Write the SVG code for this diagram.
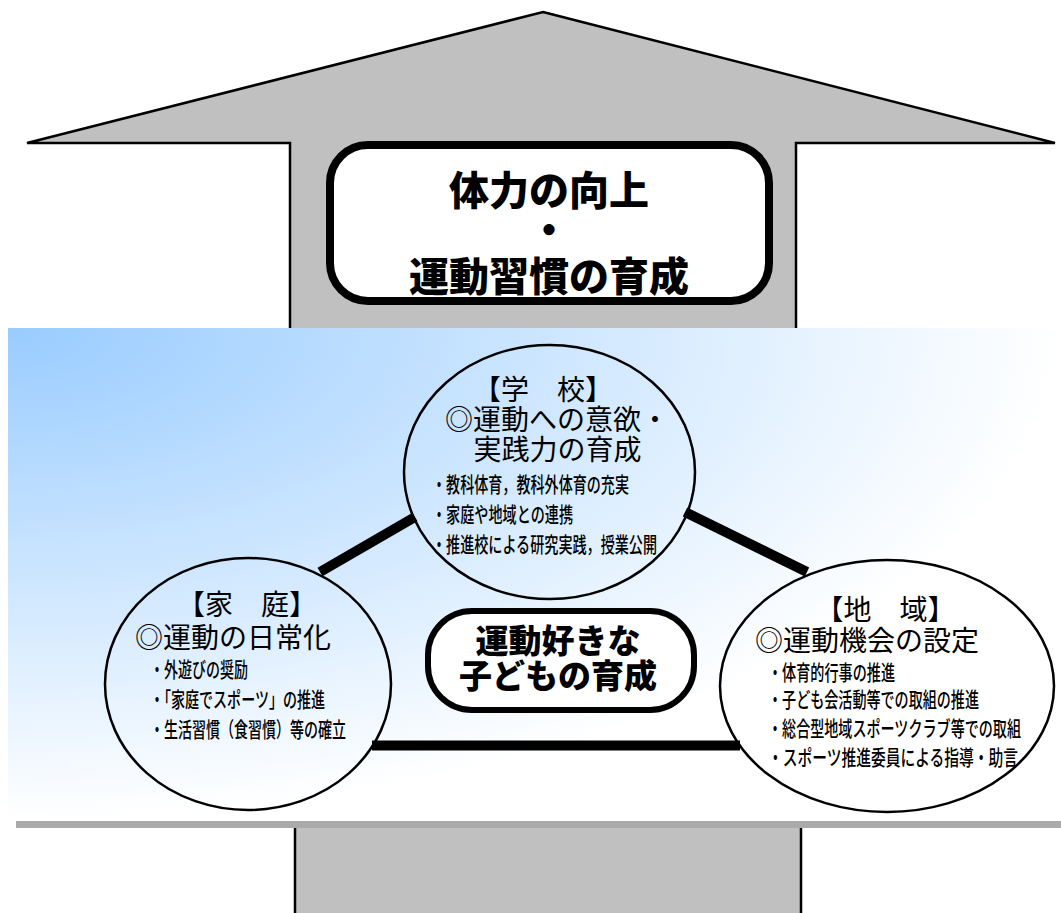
<svg xmlns="http://www.w3.org/2000/svg" width="1061" height="913" viewBox="0 0 1061 913">
<defs>
<radialGradient id="bg" gradientUnits="objectBoundingBox" cx="0" cy="0" r="1" fx="0" fy="0">
<stop offset="0" stop-color="#99ccff"/>
<stop offset="1" stop-color="#ffffff"/>
</radialGradient>
</defs>
<style>
.jp{font-family:"Noto Sans CJK JP","Noto Sans CJK SC",sans-serif;fill:#000}
.big{font-size:40px;font-weight:900;text-anchor:middle}
.mid{font-size:33px;font-weight:900;text-anchor:middle}
.head{font-size:28px}
.c{text-anchor:middle}
.bul{font-size:21px;font-weight:500}
.ell{fill:none;stroke:#000;stroke-width:2.5}
.conn{stroke:#000;stroke-width:10;stroke-linecap:butt;fill:none}
.gray{fill:#c0c0c0;stroke:#000;stroke-width:2.5}
</style>
<rect width="1061" height="913" fill="#ffffff"/>
<g id="arrow-top">
<polygon class="gray" points="543,12 1055,143 796,143 796,330 290,330 290,143 27,143"/>
</g>
<g id="goal">
<rect x="330" y="145" width="439" height="156" rx="38" fill="#ffffff" stroke="#000" stroke-width="8"/>
<text class="jp big" x="549" y="205">体力の向上</text>
<text class="jp big" x="549" y="245">・</text>
<text class="jp big" x="549" y="291">運動習慣の育成</text>
</g>
<rect id="panel" x="8" y="328" width="1053" height="492" fill="url(#bg)"/>
<rect x="16" y="821" width="1045" height="7" fill="#aaaaaa"/>
<g id="arrow-bottom">
<rect x="295" y="828" width="506" height="90" fill="#c0c0c0"/>
<line x1="295" y1="828" x2="295" y2="913" stroke="#000" stroke-width="2.5"/>
<line x1="801" y1="828" x2="801" y2="913" stroke="#000" stroke-width="2.5"/>
</g>
<g id="connectors">
<line class="conn" x1="320" y1="572" x2="415" y2="517"/>
<line class="conn" x1="685" y1="512" x2="807" y2="572"/>
<line class="conn" x1="372" y1="745.5" x2="740" y2="745.5"/>
</g>
<g id="school">
<ellipse class="ell" cx="549.5" cy="472" rx="145.5" ry="127"/>
<text class="jp head c" x="543" y="400">【学　校】</text>
<text class="jp head c" x="557" y="430">◎運動への意欲・</text>
<text class="jp head c" x="557.5" y="460">実践力の育成</text>
<text class="jp bul" x="432" y="492" textLength="197" lengthAdjust="spacingAndGlyphs">・教科体育，教科外体育の充実</text>
<text class="jp bul" x="432" y="522" textLength="141" lengthAdjust="spacingAndGlyphs">・家庭や地域との連携</text>
<text class="jp bul" x="432" y="552" textLength="225" lengthAdjust="spacingAndGlyphs">・推進校による研究実践，授業公開</text>
</g>
<g id="home">
<ellipse class="ell" cx="248" cy="684" rx="143" ry="126"/>
<text class="jp head c" x="247" y="615">【家　庭】</text>
<text class="jp head" x="135" y="648">◎運動の日常化</text>
<text class="jp bul" x="150" y="677" textLength="98" lengthAdjust="spacingAndGlyphs">・外遊びの奨励</text>
<text class="jp bul" x="150" y="707" textLength="175" lengthAdjust="spacingAndGlyphs">・「家庭でスポーツ」の推進</text>
<text class="jp bul" x="150" y="737" textLength="196" lengthAdjust="spacingAndGlyphs">・生活習慣（食習慣）等の確立</text>
</g>
<g id="region">
<ellipse class="ell" cx="887" cy="686" rx="167" ry="126"/>
<text class="jp head c" x="885.5" y="620">【地　域】</text>
<text class="jp head" x="755" y="651">◎運動機会の設定</text>
<text class="jp bul" x="768" y="680" textLength="127" lengthAdjust="spacingAndGlyphs">・体育的行事の推進</text>
<text class="jp bul" x="768" y="707" textLength="211" lengthAdjust="spacingAndGlyphs">・子ども会活動等での取組の推進</text>
<text class="jp bul" x="768" y="736" textLength="253" lengthAdjust="spacingAndGlyphs">・総合型地域スポーツクラブ等での取組</text>
<text class="jp bul" x="768" y="765" textLength="250" lengthAdjust="spacingAndGlyphs">・スポーツ推進委員による指導・助言</text>
</g>
<g id="center">
<rect x="428" y="611" width="266" height="99" rx="44" fill="#ffffff" stroke="#000" stroke-width="6"/>
<text class="jp mid" x="558" y="653">運動好きな</text>
<text class="jp mid" x="558" y="688">子どもの育成</text>
</g>
</svg>
